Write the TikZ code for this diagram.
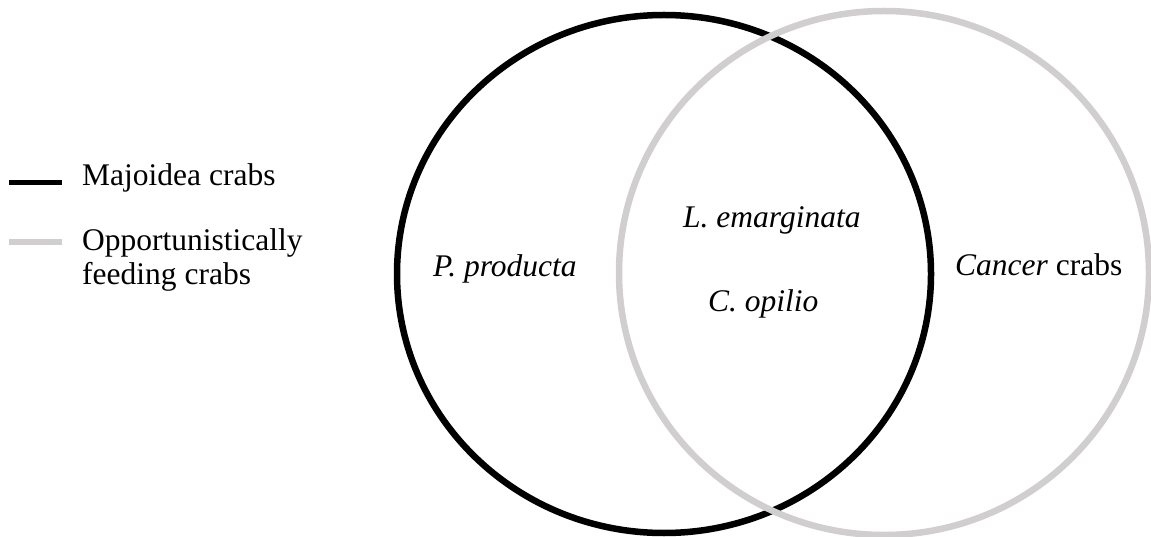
\documentclass[tikz,border=0pt]{standalone}
\usepackage{fontspec}
\setmainfont{Liberation Serif}
\definecolor{lgray}{RGB}{208,206,207}
\begin{document}
\begin{tikzpicture}[x=1pt,y=-1pt,
  lbl/.style={anchor=base west, inner sep=0pt, font=\fontsize{31.5}{33.5}\selectfont},
  ring/.style={line width=6.5pt},
  legline/.style={line width=5.5pt}]
\useasboundingbox (0,0) rectangle (1151,537);
% circles
\coordinate (cb) at (664,274);
\coordinate (cg) at (884,273);
\draw[ring] (cb) ellipse [x radius=267pt, y radius=259pt];
\draw[ring, lgray] (cg) ellipse [x radius=265pt, y radius=262pt];
% legend
\coordinate (l1a) at (9,182.5);
\coordinate (l1b) at (62,182.5);
\coordinate (l2a) at (9,242);
\coordinate (l2b) at (62,242);
\draw[legline] (l1a) -- (l1b);
\draw[legline, lgray] (l2a) -- (l2b);
\node[lbl] (maj) at (82,185.5) {Majoidea crabs};
\node[lbl] (opp1) at (82,250.7) {Opportunistically};
\node[lbl] (opp2) at (82,284.2) {feeding crabs};
% labels
\node[lbl] (pp) at (433,276.7) {\textit{P. producta}};
\node[lbl] (le) at (683,228) {\textit{L. emarginata}};
\node[lbl] (co) at (708,311.7) {\textit{C. opilio}};
\node[lbl] (cc) at (955,276) {\textit{Cancer} crabs};
\end{tikzpicture}
\end{document}
